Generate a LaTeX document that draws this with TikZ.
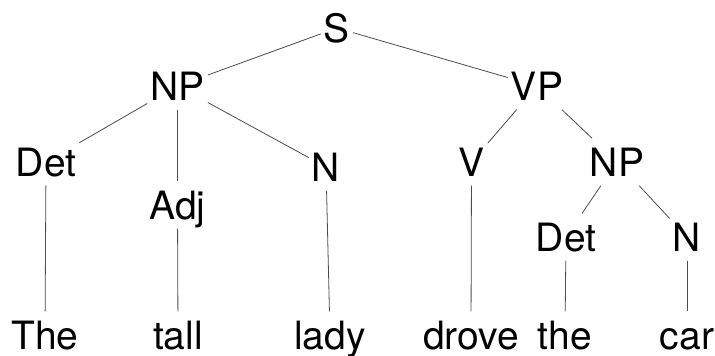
\documentclass[tikz,border=0pt]{standalone}
\usepackage{fontspec}
\setmainfont{TeX Gyre Heros}
\begin{document}
\begin{tikzpicture}[x=1pt,y=-1pt,
  lbl/.style={anchor=base,font=\fontsize{39}{42}\selectfont,text height=28pt,text depth=0pt,inner xsep=3pt,inner ysep=9.5pt},
  edge/.style={draw=black!70,line width=0.8pt}]
\useasboundingbox (0,0) rectangle (715,356);
\node[lbl] (S) at (337,42) {S};
\node[lbl] (NP) at (177.5,100) {NP};
\node[lbl] (VP) at (537,100) {VP};
\node[lbl] (Det) at (46,176) {Det};
\node[lbl] (Adj) at (177.5,219) {Adj};
\node[lbl] (N) at (326,181) {N};
\node[lbl] (V) at (471.5,176) {V};
\node[lbl] (NPb) at (617,176) {NP};
\node[lbl] (Detb) at (566,251) {Det};
\node[lbl] (Nb) at (687,251) {N};
\node[lbl] (w1) at (45,349) {The};
\node[lbl] (w2) at (178,349) {tall};
\node[lbl] (w3) at (330,349) {lady};
\node[lbl] (w4) at (471,349) {drove};
\node[lbl] (w5) at (565,349) {the};
\node[lbl] (w6) at (687,349) {car};
\draw[edge] (S) -- (NP);
\draw[edge] (S) -- (VP);
\draw[edge] (NP) -- (Det);
\draw[edge] (NP) -- (Adj);
\draw[edge] (NP) -- (N);
\draw[edge] (VP) -- (V);
\draw[edge] (VP) -- (NPb);
\draw[edge] (NPb) -- (Detb);
\draw[edge] (NPb) -- (Nb);
\draw[edge] (Det) -- (w1);
\draw[edge] (Adj) -- (w2);
\draw[edge] (N) -- (w3);
\draw[edge] (V) -- (w4);
\draw[edge] (Detb) -- (w5);
\draw[edge] (Nb) -- (w6);
\end{tikzpicture}
\end{document}
